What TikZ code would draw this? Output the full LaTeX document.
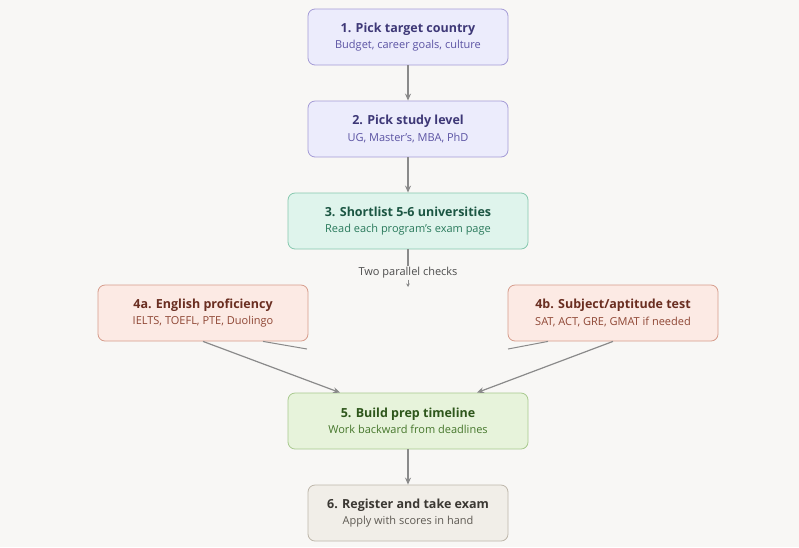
\documentclass[tikz,border=0pt]{standalone}
\usepackage{fontspec}
\setmainfont{Open Sans}
\usetikzlibrary{arrows.meta}
\definecolor{bgc}{HTML}{F8F7F5}
\definecolor{edgec}{HTML}{8A8A8A}
\definecolor{pfill}{HTML}{ECECFC}\definecolor{pdraw}{HTML}{A49BD6}\definecolor{ptext}{HTML}{3E3877}\definecolor{psub}{HTML}{5B53A3}
\definecolor{gfill}{HTML}{DFF4EC}\definecolor{gdraw}{HTML}{86C8AE}\definecolor{gtext}{HTML}{1C5643}\definecolor{gsub}{HTML}{2A7A5C}
\definecolor{rfill}{HTML}{FCEAE4}\definecolor{rdraw}{HTML}{D69C8B}\definecolor{rtext}{HTML}{6A2E21}\definecolor{rsub}{HTML}{8E4634}
\definecolor{lfill}{HTML}{E7F3DB}\definecolor{ldraw}{HTML}{A8C98E}\definecolor{ltext}{HTML}{2E561B}\definecolor{lsub}{HTML}{46772C}
\definecolor{nfill}{HTML}{F1EEE8}\definecolor{ndraw}{HTML}{BDB6AA}\definecolor{ntext}{HTML}{3B3833}\definecolor{nsub}{HTML}{5E5A53}
\tikzset{
  box/.style={rounded corners=7pt, line width=0.8pt, minimum height=56pt, align=center, inner sep=0pt},
  sbox/.style={box, minimum width=200pt},
  wbox/.style={box, minimum width=240pt},
  mbox/.style={box, minimum width=210pt},
  edge/.style={draw=edgec, line width=1.2pt, -{Stealth[length=7pt,width=6pt]}},
  plain/.style={draw=edgec, line width=1.2pt},
}
\newcommand{\tl}[2]{{\fontsize{12.5}{15}\selectfont\bfseries #1}\\[4.5pt]{\fontsize{11}{13}\selectfont #2}}
\begin{document}
\begin{tikzpicture}[x=1pt,y=-1pt]
\fill[bgc] (0,0) rectangle (799,547);
\useasboundingbox (0,0) rectangle (799,547);
\node[sbox, fill=pfill, draw=pdraw, text=ptext] (n1) at (408,37) {\tl{1. Pick target country}{\color{psub}Budget, career goals, culture}};
\node[sbox, fill=pfill, draw=pdraw, text=ptext] (n2) at (408,129) {\tl{2. Pick study level}{\color{psub}UG, Master's, MBA, PhD}};
\node[wbox, fill=gfill, draw=gdraw, text=gtext] (n3) at (408,221) {\tl{3. Shortlist 5-6 universities}{\color{gsub}Read each program's exam page}};
\node[mbox, fill=rfill, draw=rdraw, text=rtext] (n4a) at (203,313) {\tl{4a. English proficiency}{\color{rsub}IELTS, TOEFL, PTE, Duolingo}};
\node[mbox, fill=rfill, draw=rdraw, text=rtext] (n4b) at (613,313) {\tl{4b. Subject/aptitude test}{\color{rsub}SAT, ACT, GRE, GMAT if needed}};
\node[wbox, fill=lfill, draw=ldraw, text=ltext] (n5) at (408,421) {\tl{5. Build prep timeline}{\color{lsub}Work backward from deadlines}};
\node[sbox, fill=nfill, draw=ndraw, text=ntext] (n6) at (408,513) {\tl{6. Register and take exam}{\color{nsub}Apply with scores in hand}};
\node[font=\fontsize{11}{13}\selectfont, text=black!70, inner sep=1pt] (lab) at (408,273) {Two parallel checks};
\coordinate (tipA) at (408,287);
\coordinate (s4a) at (307,349);
\coordinate (s4b) at (508,349);
\draw[edge] (n1) -- (n2);
\draw[edge] (n2) -- (n3);
\draw[plain] (n3.south) -- (lab.north);
\draw[draw=edgec, line width=0.5pt, -{Stealth[length=3.5pt,width=3.5pt]}] (lab.south) -- (tipA);
\draw[plain, line width=1pt] ([xshift=60pt]n4a.south) -- (s4a);
\draw[plain, line width=1pt] ([xshift=-65pt]n4b.south) -- (s4b);
\draw[edge] (n4a.south) -- ([xshift=-68pt]n5.north);
\draw[edge] (n4b.south) -- ([xshift=69pt]n5.north);
\draw[edge] (n5) -- (n6);
\end{tikzpicture}
\end{document}
